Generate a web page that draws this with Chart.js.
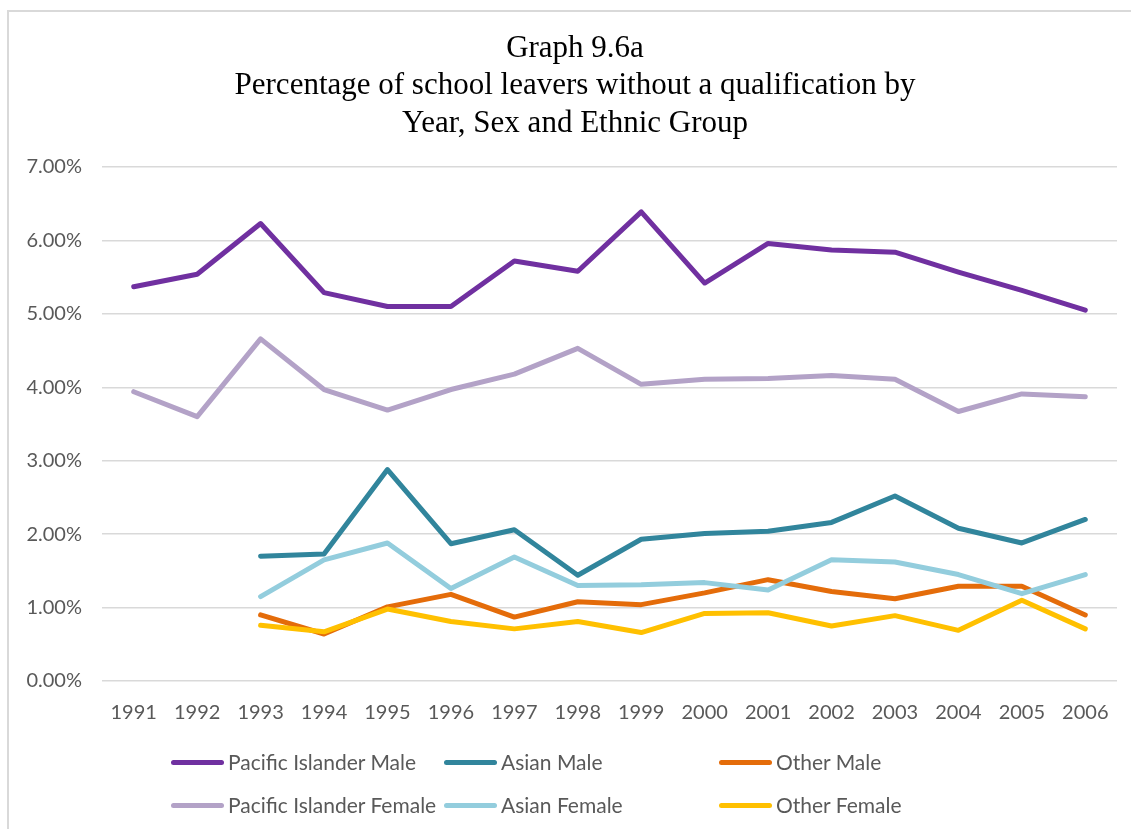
<!DOCTYPE html>
<html>
<head>
<meta charset="utf-8">
<title>Graph 9.6a</title>
<script src="https://cdn.jsdelivr.net/npm/chart.js@4.4.1/dist/chart.umd.min.js"></script>
<style>
  html, body { margin: 0; padding: 0; background: #fff; overflow: hidden; }
  body { width: 1131px; height: 829px; position: relative; }
  #frame { position: absolute; left: 7px; top: 10px; width: 1140px; height: 830px;
           border-left: 2px solid #d9d9d9; border-top: 2px solid #d9d9d9; }
  #chart { position: absolute; left: 7px; top: 0; }
  #legend { position: absolute; left: 0; top: 0; width: 1131px; height: 829px; pointer-events: none; }
  .item { position: absolute; height: 26px; line-height: 26px; display: flex; align-items: center;
          font-family: Lato, sans-serif; font-size: 21px; color: #595959; white-space: nowrap; }
  .swatch { width: 53px; height: 5px; border-radius: 3px; margin-right: 4px; }
</style>
</head>
<body>
<div id="frame"></div>
<canvas id="chart" width="1136" height="829"></canvas>
<div id="legend"></div>
<script>
// chart data
const years = ['1991', '1992', '1993', '1994', '1995', '1996', '1997', '1998',
               '1999', '2000', '2001', '2002', '2003', '2004', '2005', '2006'];

const pacificMale   = [5.37, 5.54, 6.23, 5.29, 5.10, 5.10, 5.72, 5.58, 6.39, 5.42, 5.96, 5.87, 5.84, 5.57, 5.32, 5.05];
const asianMale     = [null, null, 1.70, 1.73, 2.88, 1.87, 2.06, 1.44, 1.93, 2.01, 2.04, 2.16, 2.52, 2.08, 1.88, 2.20];
const otherMale     = [null, null, 0.90, 0.64, 1.01, 1.18, 0.87, 1.08, 1.04, 1.20, 1.38, 1.22, 1.12, 1.29, 1.29, 0.90];
const pacificFemale = [3.94, 3.60, 4.66, 3.97, 3.69, 3.97, 4.18, 4.53, 4.04, 4.11, 4.12, 4.16, 4.11, 3.67, 3.91, 3.87];
const asianFemale   = [null, null, 1.15, 1.65, 1.88, 1.26, 1.69, 1.30, 1.31, 1.34, 1.24, 1.65, 1.62, 1.45, 1.19, 1.45];
const otherFemale   = [null, null, 0.76, 0.67, 0.98, 0.81, 0.71, 0.81, 0.66, 0.92, 0.93, 0.75, 0.89, 0.69, 1.10, 0.71];

const seriesNames  = ['Pacific Islander Male', 'Asian Male', 'Other Male',
                      'Pacific Islander Female', 'Asian Female', 'Other Female'];
const seriesValues = [pacificMale, asianMale, otherMale, pacificFemale, asianFemale, otherFemale];
const seriesColors = ['#7030a0', '#31859c', '#e46c0a', '#b3a2c7', '#93cddd', '#ffc000'];

const titleLines = ['Graph 9.6a',
                    'Percentage of school leavers without a qualification by',
                    'Year, Sex and Ethnic Group'];

const tickFont = { family: 'Lato, sans-serif', size: 20 };

// build datasets, later series drawn on top (like Excel)
const datasets = seriesNames.map((name, i) => ({
    label: name,
    data: seriesValues[i],
    borderColor: seriesColors[i],
    backgroundColor: seriesColors[i],
    borderWidth: 5,
    borderCapStyle: 'round',
    borderJoinStyle: 'round',
    pointRadius: 0,
    tension: 0,
    fill: false,
    order: seriesNames.length - i
}));

// centre the title over the whole frame, not just the padded area
const titleSpan = {
    id: 'titleSpan',
    afterLayout(chart) {
        const t = chart.titleBlock;
        if (t) {
            t.left = 0;
            t.right = chart.width;
            t.width = chart.width;
        }
    }
};

const ctx = document.getElementById('chart').getContext('2d');
const chart = new Chart(ctx, {
    type: 'line',
    data: { labels: years, datasets: datasets },
    plugins: [titleSpan],
    options: {
        responsive: false,
        animation: false,
        layout: { padding: { left: 0, right: 26, top: 0, bottom: 88 } },
        plugins: {
            legend: { display: false },
            tooltip: { enabled: false },
            title: {
                display: true,
                text: titleLines,
                color: '#000',
                font: { family: '"Liberation Serif", serif', size: 31, weight: 'normal', lineHeight: 1.21 },
                padding: { top: 30, bottom: 24.5 }
            }
        },
        scales: {
            x: {
                offset: true,
                grid: { display: false, drawTicks: false },
                border: { display: false },
                ticks: { color: '#595959', font: tickFont, padding: 20, maxRotation: 0, autoSkip: false },
                afterFit: (s) => { s.height = 60; }
            },
            y: {
                min: 0,
                max: 7,
                grid: { color: '#d9d9d9', lineWidth: 1.5, drawTicks: false },
                border: { display: false },
                ticks: {
                    stepSize: 1,
                    color: '#595959',
                    font: tickFont,
                    padding: 20,
                    callback: (v) => v.toFixed(2) + '%'
                },
                afterFit: (s) => { s.width = 95; }
            }
        }
    }
});

// legend in three fixed columns, two rows
const legendCols = [171, 444, 719];
const legendRows = [762, 805];
const legendBox = document.getElementById('legend');
chart.data.datasets.forEach((ds, i) => {
    const item = document.createElement('div');
    item.className = 'item';
    item.style.left = legendCols[i % 3] + 'px';
    item.style.top = (legendRows[Math.floor(i / 3)] - 13) + 'px';
    const sw = document.createElement('span');
    sw.className = 'swatch';
    sw.style.background = ds.borderColor;
    const txt = document.createElement('span');
    txt.textContent = ds.label;
    item.appendChild(sw);
    item.appendChild(txt);
    legendBox.appendChild(item);
});
</script>
</body>
</html>
